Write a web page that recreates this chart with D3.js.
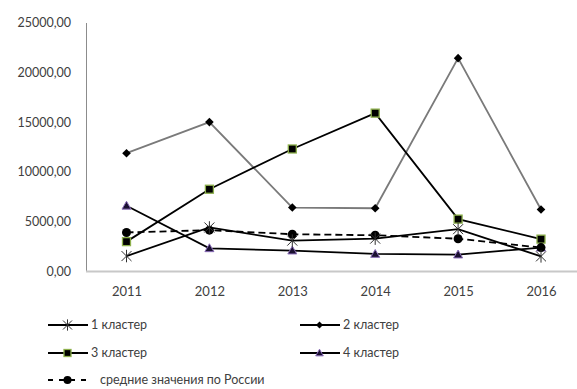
<!DOCTYPE html>
<html>
<head>
<meta charset="utf-8">
<script src="https://cdn.jsdelivr.net/npm/d3@7"></script>
<style>
  html, body { margin: 0; padding: 0; background: #fff; }
  svg { display: block; }
  text { font-family: Lato, "Open Sans", sans-serif; fill: #404040; }
</style>
</head>
<body>
<svg id="chart" width="577" height="389"></svg>
<script>
// Years along the x axis
const years = ["2011", "2012", "2013", "2014", "2015", "2016"];

// Values per cluster
const cluster1 = [1550, 4420, 3100, 3300, 4250, 1520];
const cluster2 = [11880, 15000, 6420, 6350, 21420, 6220];
const cluster3 = [3000, 8260, 12300, 15900, 5260, 3250];
const cluster4 = [6600, 2330, 2100, 1760, 1700, 2400];
const russiaAvg = [3920, 4150, 3740, 3640, 3290, 2400];

// Y axis ticks
const yTicks = [0, 5000, 10000, 15000, 20000, 25000];

const seriesNames = ["1 кластер", "2 кластер", "3 кластер", "4 кластер", "средние значения по России"];

const svg = d3.select("#chart");

const x = d3.scalePoint().domain(years).range([126.5, 541]);
const y = d3.scaleLinear().domain([0, 25000]).range([271.5, 22.5]);

const fmt = v => d3.format(".2f")(v).replace(".", ",");

// Y axis: thin grey line with labels, no ticks
const yAxis = d3.axisLeft(y).tickValues(yTicks).tickSize(0).tickPadding(15).tickFormat(fmt);
const gy = svg.append("g").attr("transform", "translate(86,0)").call(yAxis);
gy.select(".domain").attr("stroke", "#8c8c8c").attr("stroke-width", 1);
gy.selectAll("text").attr("font-size", 12.5).attr("fill", "#404040")
  .style("font-family", "Lato, 'Open Sans', sans-serif");

// X axis: light grey baseline with year labels
svg.append("line")
  .attr("x1", 86).attr("x2", 577)
  .attr("y1", y(0)).attr("y2", y(0))
  .attr("stroke", "#c8c8c8").attr("stroke-width", 2);
const xAxis = d3.axisBottom(x).tickSize(0).tickPadding(15);
const gx = svg.append("g").attr("transform", `translate(0,${y(0)})`).call(xAxis);
gx.select(".domain").remove();
gx.selectAll("text").attr("font-size", 13).attr("fill", "#404040")
  .style("font-family", "Lato, 'Open Sans', sans-serif");

const line = d3.line().x((d, i) => x(years[i])).y(d => y(d));

// Marker drawers
function asterisk(g, cx, cy, s) {
  const r = s;
  g.append("path")
    .attr("d", `M${cx - r},${cy - r}L${cx + r},${cy + r}M${cx - r},${cy + r}L${cx + r},${cy - r}M${cx},${cy - r * 1.25}L${cx},${cy + r * 1.25}`)
    .attr("stroke", "#303030").attr("stroke-width", 1).attr("fill", "none");
}
function diamond(g, cx, cy, s) {
  g.append("path")
    .attr("d", `M${cx},${cy - s}L${cx + s},${cy}L${cx},${cy + s}L${cx - s},${cy}Z`)
    .attr("fill", "#000");
}
function square(g, cx, cy, s) {
  g.append("rect")
    .attr("x", cx - s).attr("y", cy - s).attr("width", 2 * s).attr("height", 2 * s)
    .attr("fill", "#000").attr("stroke", "#8db04c").attr("stroke-width", 1.3);
}
function triangle(g, cx, cy, s) {
  g.append("path")
    .attr("d", `M${cx},${cy - s}L${cx + s},${cy + s * 0.75}L${cx - s},${cy + s * 0.75}Z`)
    .attr("fill", "#1a1030").attr("stroke", "#8a6cb8").attr("stroke-width", 1);
}
function circle(g, cx, cy, s) {
  g.append("circle").attr("cx", cx).attr("cy", cy).attr("r", s).attr("fill", "#000");
}

const series = [
  { name: seriesNames[1], values: cluster2, color: "#7a7a7a", width: 1.8, dash: null, marker: diamond, size: 4.3 },
  { name: seriesNames[2], values: cluster3, color: "#000", width: 1.8, dash: null, marker: square, size: 4 },
  { name: seriesNames[3], values: cluster4, color: "#000", width: 1.8, dash: null, marker: triangle, size: 4.5 },
  { name: seriesNames[4], values: russiaAvg, color: "#000", width: 1.8, dash: "7,4", marker: circle, size: 4.5 },
  { name: seriesNames[0], values: cluster1, color: "#000", width: 1.8, dash: null, marker: asterisk, size: 5 }
];

const plot = svg.append("g");
series.forEach(s => {
  plot.append("path")
    .attr("d", line(s.values))
    .attr("fill", "none")
    .attr("stroke", s.color)
    .attr("stroke-width", s.width)
    .attr("stroke-dasharray", s.dash);
});
series.forEach(s => {
  const g = plot.append("g");
  s.values.forEach((v, i) => s.marker(g, x(years[i]), y(v), s.size));
});

// Legend
const legendItems = [
  { name: seriesNames[0], x0: 48, y0: 325, marker: asterisk, size: 4.5, color: "#000", dash: null },
  { name: seriesNames[1], x0: 300, y0: 325, marker: diamond, size: 3.5, color: "#000", dash: null },
  { name: seriesNames[2], x0: 48, y0: 353, marker: square, size: 3.5, color: "#000", dash: null },
  { name: seriesNames[3], x0: 300, y0: 353, marker: triangle, size: 3.8, color: "#000", dash: null },
  { name: seriesNames[4], x0: 48, y0: 380, marker: circle, size: 4, color: "#000", dash: "5,6" }
];
const lg = svg.append("g");
legendItems.forEach(d => {
  const g = lg.append("g");
  g.append("line")
    .attr("x1", d.x0).attr("x2", d.x0 + 40)
    .attr("y1", d.y0).attr("y2", d.y0)
    .attr("stroke", d.color).attr("stroke-width", 2)
    .attr("stroke-dasharray", d.dash);
  d.marker(g, d.x0 + 19.5, d.y0, d.size);
  g.append("text")
    .attr("x", d.dash ? d.x0 + 52 : d.x0 + 43)
    .attr("y", d.y0)
    .attr("dy", "0.35em")
    .attr("font-size", 12.5)
    .text(d.name);
});
</script>
</body>
</html>
